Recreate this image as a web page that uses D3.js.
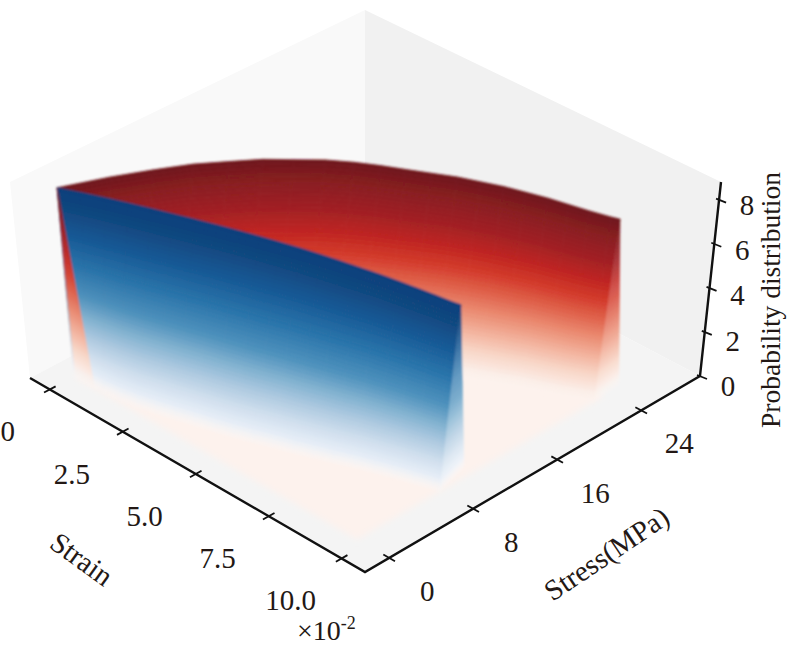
<!DOCTYPE html>
<html>
<head>
<meta charset="utf-8">
<script src="https://cdn.jsdelivr.net/npm/d3@7/dist/d3.min.js"></script>
<style>
  html, body { margin: 0; padding: 0; background: #fff; }
  text { font-family: "Liberation Serif", serif; fill: #231815; }
</style>
</head>
<body>
<div id="container"></div>
<script>
// strain stations along the ridges (x10^-2)
const strain = [0, 0.5, 1, 1.5, 2, 2.5, 3, 3.5, 4, 4.5, 5, 5.5, 6, 6.5, 7, 7.5, 8, 8.5, 9, 9.5, 9.7];

// ridge position (stress, MPa) and height for both surfaces
const blueStress = [0, 0.8, 1.52, 2.2, 2.85, 3.47, 4.07, 4.65, 5.2, 5.72, 6.2, 6.66, 7.07, 7.45, 7.8, 8.15, 8.45, 8.72, 8.98, 9.22, 9.35];
const blueFoot = [0, 0, 0.1, 0.25, 0.5, 0.9, 1.3, 1.75, 2.15, 2.6, 3.1, 3.65, 4.15, 4.7, 5.25, 5.85, 6.35, 6.85, 7.3, 7.75, 7.9];
const bluePeak = [8.55, 8.55, 8.55, 8.55, 8.55, 8.55, 8.55, 8.55, 8.55, 8.55, 8.55, 8.55, 8.55, 8.55, 8.55, 8.55, 8.55, 8.55, 8.55, 8.55, 8.55];

const redStress = [0, 3.4, 5.9, 8.1, 9.9, 11.6, 13.0, 14.4, 15.6, 16.6, 17.5, 18.4, 19.3, 20.0, 20.7, 21.3, 21.9, 22.4, 22.9, 23.45, 23.7];
const redFoot = [0, 1.5, 3.6, 5.6, 7.4, 9.1, 10.6, 12.0, 13.3, 14.5, 15.5, 16.5, 17.4, 18.2, 18.9, 19.6, 20.3, 20.9, 21.5, 22.2, 22.6];
const redPeak = [8.55, 8.6, 8.7, 8.8, 8.85, 8.9, 8.9, 8.9, 8.85, 8.8, 8.75, 8.7, 8.65, 8.6, 8.55, 8.48, 8.4, 8.32, 8.24, 8.16, 8.13];

// tick labels
const strainTicks = [0, 2.5, 5, 7.5, 10];
const stressTicks = [0, 8, 16, 24];
const probTicks = [0, 2, 4, 6, 8];

// colour ramps, top of the wall to its foot
const blueRamp = ["#0f3f7d", "#10477f", "#175a97", "#2a75ab", "#4f92bd", "#7fb0cf", "#acc9e0", "#d0dfee", "#eaf0f8", "#f5f7fb"];
const blueRampAt = [0, 0.1, 0.25, 0.4, 0.55, 0.65, 0.75, 0.85, 0.95, 1];
const redRamp = ["#6d161b", "#8a1c20", "#a31f22", "#bf2420", "#d23a2a", "#e0614a", "#ea8a70", "#f2b09a", "#f8d5c6", "#fbeee8", "#fcf3ee"];
const redRampAt = [0, 0.12, 0.25, 0.35, 0.45, 0.55, 0.65, 0.75, 0.85, 0.95, 1];

const width = 793;
const height = 648;
const rows = 48;

const xScale = d3.scaleLinear().domain([-0.68, 10.8]).range([0, 1]);
const yScale = d3.scaleLinear().domain([-2.3, 29.6]).range([0, 1]);
const zScale = d3.scaleLinear().domain([0, 8.8]).range([0, 1]);

// box corners on screen, floor then top: left, front, right, back
const floorBox = [[30, 378], [365, 572], [700, 376], [365, 200]];
const topBox = [[10, 182], [365, 397], [721, 182], [365, 10]];

function corner(box, u, v) {
  return [0, 1].map(k =>
    (1 - u) * (1 - v) * box[0][k] + u * (1 - v) * box[1][k] + u * v * box[2][k] + (1 - u) * v * box[3][k]);
}

function project(e, s, z) {
  const u = xScale(e), v = yScale(s), w = zScale(z);
  const a = corner(floorBox, u, v), b = corner(topBox, u, v);
  return [a[0] + (b[0] - a[0]) * w, a[1] + (b[1] - a[1]) * w];
}

const xMin = xScale.domain()[0], xMax = xScale.domain()[1];
const yMin = yScale.domain()[0], yMax = yScale.domain()[1];
const zMax = zScale.domain()[1];

const svg = d3.select("#container").append("svg")
    .attr("width", width)
    .attr("height", height)
    .style("display", "block");

const defs = svg.append("defs");
defs.append("filter").attr("id", "soft")
    .attr("x", "-10%").attr("y", "-10%").attr("width", "120%").attr("height", "120%")
  .append("feGaussianBlur").attr("stdDeviation", 3);
defs.append("filter").attr("id", "print")
    .attr("filterUnits", "userSpaceOnUse")
    .attr("x", 0).attr("y", 0).attr("width", width).attr("height", height)
  .append("feGaussianBlur").attr("stdDeviation", 0.8);

const line = d3.line();
const poly = pts => line(pts) + "Z";

// panes
svg.append("path").attr("d", poly([project(xMin, yMin, 0), project(xMin, yMin, zMax), project(xMin, yMax, zMax), project(xMin, yMax, 0)])).attr("fill", "#f9f9f9");
svg.append("path").attr("d", poly([project(xMin, yMax, 0), project(xMin, yMax, zMax), project(xMax, yMax, zMax), project(xMax, yMax, 0)])).attr("fill", "#f1f1f1");
svg.append("path").attr("d", poly([project(xMin, yMin, 0), project(xMax, yMin, 0), project(xMax, yMax, 0), project(xMin, yMax, 0)])).attr("fill", "#f4f4f4");

// pale base of the surface
svg.append("path")
    .attr("d", poly([project(0, 0, 0), project(9.7, 0, 0), project(9.7, 23.5, 0), project(0, 23.5, 0)]))
    .attr("fill", "#fdf2ed")
    .attr("filter", "url(#soft)");

const surface = svg.append("g").attr("filter", "url(#print)");

function wall(ridge, foot, peak, ramp, at) {
  const color = d3.scaleLinear().domain(at).range(ramp);
  const g = surface.append("g");
  // point on the wall at station i, f runs 0 (top) to 1 (foot)
  const pt = (i, f) => project(strain[i], ridge[i] + (foot[i] - ridge[i]) * f, peak[i] * (1 - f));
  d3.range(strain.length - 1).forEach(i => {
    d3.range(rows).forEach(j => {
      const f0 = j / rows, f1 = (j + 1) / rows;
      const c = color((f0 + f1) / 2);
      g.append("path")
          .attr("d", poly([pt(i, f0), pt(i + 1, f0), pt(i + 1, f1), pt(i, f1)]))
          .attr("fill", c).attr("stroke", c).attr("stroke-width", 0.7)
          .attr("opacity", Math.min(1, (1 - f0) / 0.08));
    });
  });
}

function sliver(apex, a, b, ramp, at, fade) {
  const color = d3.scaleLinear().domain(at).range(ramp);
  const g = surface.append("g");
  const along = (p, f) => [apex[0] + (p[0] - apex[0]) * f, apex[1] + (p[1] - apex[1]) * f];
  d3.range(rows).forEach(j => {
    const f0 = j / rows, f1 = (j + 1) / rows;
    const c = d3.interpolateRgb(color((f0 + f1) / 2), "#fff")(fade * Math.min(1, f0 * 2.5));
    g.append("path").attr("d", poly([along(a, f0), along(b, f0), along(b, f1), along(a, f1)]))
        .attr("fill", c).attr("stroke", c).attr("stroke-width", 0.7)
        .attr("opacity", Math.min(1, (1 - f0) / 0.08));
  });
}

const last = strain.length - 1;

// red surface, then its end flank
wall(redStress, redFoot, redPeak, redRamp, redRampAt);
sliver(project(strain[last], redStress[last], redPeak[last]), project(strain[last], redFoot[last], 0), project(9.6, 25.2, 0), redRamp, redRampAt, 0.18);

// blue surface
wall(blueStress, blueFoot, bluePeak, blueRamp, blueRampAt);
sliver(project(strain[last], blueStress[last], bluePeak[last]), project(strain[last], blueFoot[last], 0), project(9.4, 11, 0), blueRamp, blueRampAt, 0.25);

// start flank of the red surface sits over the blue edge
sliver(project(0, 0, redPeak[0]), project(0.05, 0, 0), project(0.75, -0.1, 0), redRamp, redRampAt, 0.05);

// axes
const axisColor = "#111";
const axes = svg.append("g").attr("stroke", axisColor).attr("fill", "none").attr("stroke-width", 2.4);
axes.append("path").attr("d", line([project(xMin, yMin, 0), project(xMax, yMin, 0), project(xMax, yMax, 0), project(xMax, yMax, zMax)]));

const ticks = svg.append("g").attr("stroke", axisColor).attr("stroke-width", 1.8);
const labels = svg.append("g").attr("font-size", 29).attr("text-anchor", "middle");

strainTicks.forEach(d => {
  ticks.append("path").attr("d", line([project(d, yMin - 0.55, 0), project(d, yMin + 0.55, 0)]));
  const p = project(d, yMin, 0);
  labels.append("text").attr("x", p[0] + (d === 0 ? -42 : -51)).attr("y", p[1] + 52)
      .text(d === 0 ? "0" : d.toFixed(1));
});

stressTicks.forEach(d => {
  ticks.append("path").attr("d", line([project(xMax - 0.2, d, 0), project(xMax + 0.2, d, 0)]));
  const p = project(xMax, d, 0);
  labels.append("text").attr("x", p[0] + 38).attr("y", p[1] + 43).text(d);
});

probTicks.forEach(d => {
  const p = project(xMax, yMax, d);
  ticks.append("path").attr("d", line([[p[0] - 3, p[1] - 1], [p[0] + 7, p[1] + 3]]));
  labels.append("text").attr("x", p[0] + 28).attr("y", p[1] + 20 - d * 0.6).text(d);
});

// x10^-2 note
const power = svg.append("text").attr("x", 297).attr("y", 640).attr("font-size", 28);
power.append("tspan").text("\u00d710");
power.append("tspan").attr("font-size", 18).attr("dy", -11).text("-2");

svg.append("text").attr("font-size", 29).attr("text-anchor", "middle")
    .attr("transform", "translate(76,567) rotate(36)").text("Strain");
svg.append("text").attr("font-size", 29).attr("text-anchor", "middle")
    .attr("transform", "translate(612,562) rotate(-34)").text("Stress(MPa)");
svg.append("text").attr("font-size", 27.5).attr("text-anchor", "middle")
    .attr("transform", "translate(780,300) rotate(-90)").text("Probability distribution");
</script>
</body>
</html>
